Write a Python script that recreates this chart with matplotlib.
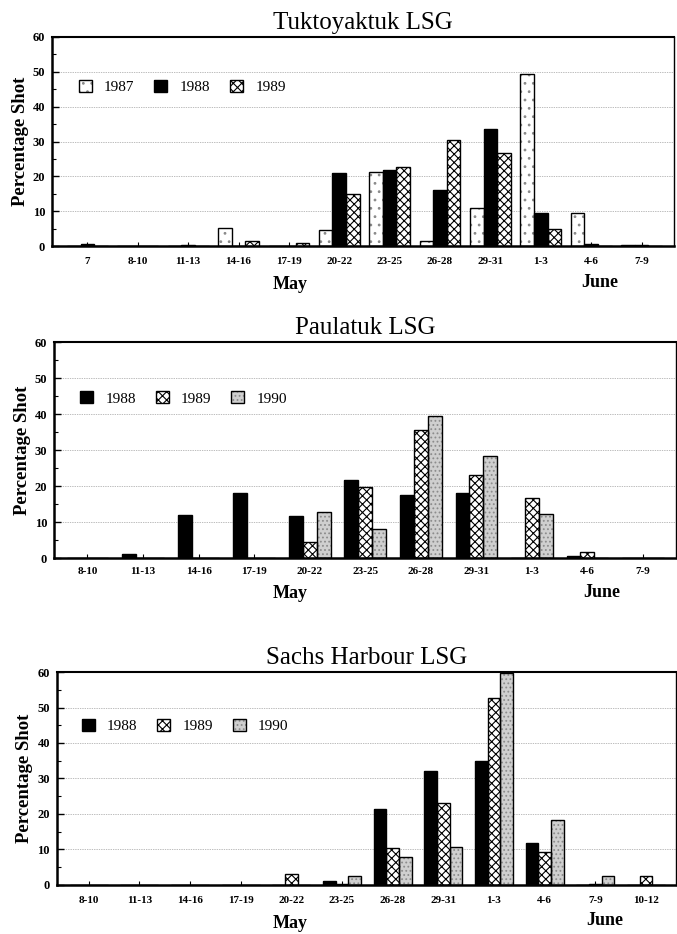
import numpy as np
import matplotlib
matplotlib.use("Agg")
from matplotlib import pyplot as plt
from matplotlib.ticker import MultipleLocator

plt.rcParams['font.family'] = ['Liberation Serif', 'DejaVu Serif']
plt.rcParams['hatch.linewidth'] = 0.8

# Tuktoyaktuk
tuk_labels = ["7", "8-10", "11-13", "14-16", "17-19", "20-22", "23-25", "26-28", "29-31", "1-3", "4-6", "7-9"]
tuk_1987 = [0, 0, 0, 5.2, 0, 4.7, 21.2, 1.5, 10.8, 49.3, 9.6, 0.3]
tuk_1988 = [0.5, 0, 0.2, 0, 0, 21.0, 21.7, 16.2, 33.5, 9.5, 0.5, 0.3]
tuk_1989 = [0, 0, 0, 1.5, 1.0, 15.0, 22.8, 30.3, 26.7, 4.8, 0, 0]

# Paulatuk
pau_labels = ["8-10", "11-13", "14-16", "17-19", "20-22", "23-25", "26-28", "29-31", "1-3", "4-6", "7-9"]
pau_1988 = [0, 1.1, 12.0, 18.0, 11.8, 21.8, 17.6, 18.2, 0, 0.5, 0]
pau_1989 = [0, 0, 0, 0, 4.5, 19.8, 35.5, 23.0, 16.8, 1.6, 0]
pau_1990 = [0, 0, 0, 0, 12.9, 8.0, 39.5, 28.3, 12.2, 0, 0]

# Sachs Harbour
sac_labels = ["8-10", "11-13", "14-16", "17-19", "20-22", "23-25", "26-28", "29-31", "1-3", "4-6", "7-9", "10-12"]
sac_1988 = [0, 0, 0, 0, 0, 1.0, 21.3, 32.0, 34.8, 11.8, 0, 0]
sac_1989 = [0, 0, 0, 0, 3.2, 0.3, 10.3, 23.0, 52.8, 9.3, 0.3, 2.5]
sac_1990 = [0, 0, 0, 0, 0, 2.4, 7.9, 10.8, 59.6, 18.2, 2.4, 0]

# fill styles: (face, hatch, hatch colour)
styles = {
    "1987": ("white", "..", "#8a8a8a"),
    "1988": ("black", "", "black"),
    "1989": ("white", "xxxx", "black"),
    "1990": ("#cfcfcf", "....", "#8c8c8c"),
}


def draw_panel(ax, labels, series, title, xlim, leg_pos, width=0.26, xpad=8):
    x = np.arange(len(labels))
    handles = []
    n = len(series)
    for i, (year, vals) in enumerate(series):
        face, hatch, hcol = styles[year]
        pos = x + (i - (n - 1) / 2) * width
        b1 = ax.bar(pos, vals, width, color=face, hatch=hatch, edgecolor=hcol, linewidth=0, zorder=2)
        b2 = ax.bar(pos, vals, width, fill=False, edgecolor="black", linewidth=1.0, zorder=3)
        handles.append(((b1[0], b2[0]), year))
    ax.set_xlim(*xlim)
    ax.set_ylim(0, 60)
    ax.set_xticks(x)
    ax.set_xticklabels(labels, fontsize=8, fontweight="bold")
    ax.yaxis.set_major_locator(MultipleLocator(10))
    ax.yaxis.set_minor_locator(MultipleLocator(5))
    ax.tick_params(axis="y", which="major", direction="in", length=5, width=1, labelsize=9, pad=5)
    ax.tick_params(axis="y", which="minor", direction="in", length=3, width=0.8)
    ax.tick_params(axis="x", direction="in", length=3, width=0.8, pad=xpad)
    for t in ax.get_yticklabels():
        t.set_fontweight("bold")
    ax.set_axisbelow(True)
    ax.yaxis.grid(True, linestyle=(0, (1, 1.5)), color="#7a7a7a", linewidth=0.5)
    ax.set_ylabel("Percentage Shot", fontsize=13.5, fontweight="bold", labelpad=3)
    ax.set_title(title, fontsize=18, pad=6)
    ax.spines["left"].set_linewidth(1.8)
    ax.spines["bottom"].set_linewidth(1.8)
    ax.spines["top"].set_linewidth(1.5)
    ax.spines["right"].set_linewidth(1.0)
    ax.legend([h for h, _ in handles], [y for _, y in handles], loc="center left",
              bbox_to_anchor=leg_pos, ncol=3, frameon=False, fontsize=11,
              handlelength=0.85, handleheight=0.85, handletextpad=0.8,
              columnspacing=1.3, borderpad=0, borderaxespad=0)


fig = plt.figure(figsize=(6.77, 9.34), dpi=100)

ax1 = fig.add_axes([0.077, 0.7366, 0.919, 0.2238])
draw_panel(ax1, tuk_labels, [("1987", tuk_1987), ("1988", tuk_1988), ("1989", tuk_1989)],
           "Tuktoyaktuk LSG", (-0.7, 11.65), (0.043, 0.76), width=0.27, xpad=8)

ax2 = fig.add_axes([0.080, 0.4025, 0.919, 0.231])
draw_panel(ax2, pau_labels, [("1988", pau_1988), ("1989", pau_1989), ("1990", pau_1990)],
           "Paulatuk LSG", (-0.6, 10.6), (0.042, 0.74), width=0.25, xpad=6.5)

ax3 = fig.add_axes([0.084, 0.0525, 0.915, 0.228])
draw_panel(ax3, sac_labels, [("1988", sac_1988), ("1989", sac_1989), ("1990", sac_1990)],
           "Sachs Harbour LSG", (-0.63, 11.6), (0.04, 0.746), width=0.25, xpad=8)

# month labels under the axes (baseline positions)
month_font = dict(fontsize=13, fontweight="bold", ha="center", va="baseline")
fig.text(290 / 677, 1 - 289 / 934, "May", **month_font)
fig.text(600 / 677, 1 - 287 / 934, "June", **month_font)
fig.text(290 / 677, 1 - 598 / 934, "May", **month_font)
fig.text(602 / 677, 1 - 597 / 934, "June", **month_font)
fig.text(290 / 677, 1 - 928 / 934, "May", **month_font)
fig.text(605 / 677, 1 - 925 / 934, "June", **month_font)

fig.savefig("out.png", dpi=100)
